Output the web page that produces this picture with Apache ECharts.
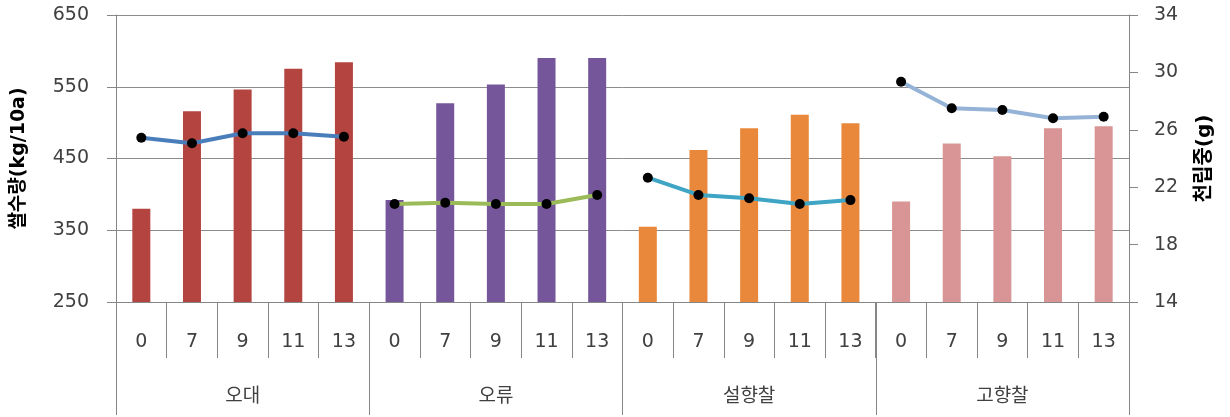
<!DOCTYPE html>
<html><head><meta charset="utf-8">
<script src="https://cdn.jsdelivr.net/npm/echarts@6/dist/echarts.min.js"></script>
<style>html,body{margin:0;padding:0;background:#fff}#c{width:1230px;height:417px}</style>
</head><body><div id="c"></div>
<script>
const groups = ['오대', '오류', '설향찰', '고향찰'];
const doses = ['0', '7', '9', '11', '13'];
const yieldOdae = [380, 516, 546, 575, 584];
const yieldOryu = [392, 527, 553, 590, 590];
const yieldSeol = [355, 462, 492, 511, 499];
const yieldGo = [390, 471, 453, 492, 495];
const kwOdae = [25.45, 25.06, 25.76, 25.76, 25.52];
const kwOryu = [20.83, 20.92, 20.83, 20.83, 21.46];
const kwSeol = [22.66, 21.46, 21.23, 20.83, 21.1];
const kwGo = [29.35, 27.5, 27.38, 26.8, 26.91];
const leftTicks = {min: 250, max: 650, interval: 100};
const rightTicks = {min: 14, max: 34, interval: 4};

const barColors = ['#B3443F', '#76569B', '#E9883A', '#D99495'];
const lineColors = ['#4A7EBB', '#9BBB59', '#3FA5C4', '#95B3D7'];
const yields = [yieldOdae, yieldOryu, yieldSeol, yieldGo];
const kws = [kwOdae, kwOryu, kwSeol, kwGo];

const cats = [];
groups.forEach(g => doses.forEach(d => cats.push(d)));
const barData = [];
yields.forEach((arr, gi) => arr.forEach(v => barData.push({value: v, itemStyle: {color: barColors[gi]}})));
const n = cats.length;
const lineSeries = kws.map((arr, gi) => {
  const data = new Array(n).fill('-');
  arr.forEach((v, i) => data[gi * 5 + i] = v);
  return {
    type: 'line', yAxisIndex: 1, xAxisIndex: 0, data: data,
    symbol: 'circle', symbolSize: 10, connectNulls: false,
    lineStyle: {color: lineColors[gi], width: 4},
    itemStyle: {color: '#000'}, z: 5, animation: false
  };
});
const font = 'DejaVu Sans, Noto Sans CJK KR, sans-serif';
const chart = echarts.init(document.getElementById('c'));
chart.setOption({
  animation: false,
  grid: {left: 116, right: 101, top: 15, bottom: 115},
  xAxis: [{
    type: 'category', data: cats, position: 'bottom',
    axisLine: {show: true, lineStyle: {color: '#868686'}},
    axisTick: {show: true, interval: 0, length: 56, lineStyle: {color: '#868686'}},
    axisLabel: {interval: 0, margin: 31, fontSize: 19, color: '#404040', fontFamily: font}
  }, {
    type: 'category', data: groups, position: 'bottom',
    axisLine: {show: true, lineStyle: {color: '#868686'}},
    axisTick: {show: true, interval: 0, length: 113, lineStyle: {color: '#868686'}},
    axisLabel: {interval: 0, margin: 86, fontSize: 19, color: '#404040', fontFamily: font}
  }],
  yAxis: [{
    type: 'value', min: leftTicks.min, max: leftTicks.max, interval: leftTicks.interval,
    name: '쌀수량(kg/10a)', nameLocation: 'middle', nameGap: 87,
    nameTextStyle: {fontSize: 19, fontWeight: 'bold', color: '#000', fontFamily: font},
    axisLine: {show: true, lineStyle: {color: '#868686'}},
    axisTick: {show: true, length: 9, lineStyle: {color: '#868686'}},
    axisLabel: {margin: 27, fontSize: 19, color: '#404040', fontFamily: font},
    splitLine: {lineStyle: {color: '#8C8C8C'}}
  }, {
    type: 'value', min: rightTicks.min, max: rightTicks.max, interval: rightTicks.interval,
    name: '천립중(g)', nameLocation: 'middle', nameGap: 66,
    nameTextStyle: {fontSize: 20, fontWeight: 'bold', color: '#000', fontFamily: font},
    axisLine: {show: true, lineStyle: {color: '#868686'}},
    axisTick: {show: true, length: 9, lineStyle: {color: '#868686'}},
    axisLabel: {margin: 25, fontSize: 19, color: '#404040', fontFamily: font},
    splitLine: {show: false}
  }],
  series: [{
    type: 'bar', data: barData, barWidth: 18, xAxisIndex: 0, yAxisIndex: 0, z: 2
  }].concat(lineSeries)
});
</script></body></html>
